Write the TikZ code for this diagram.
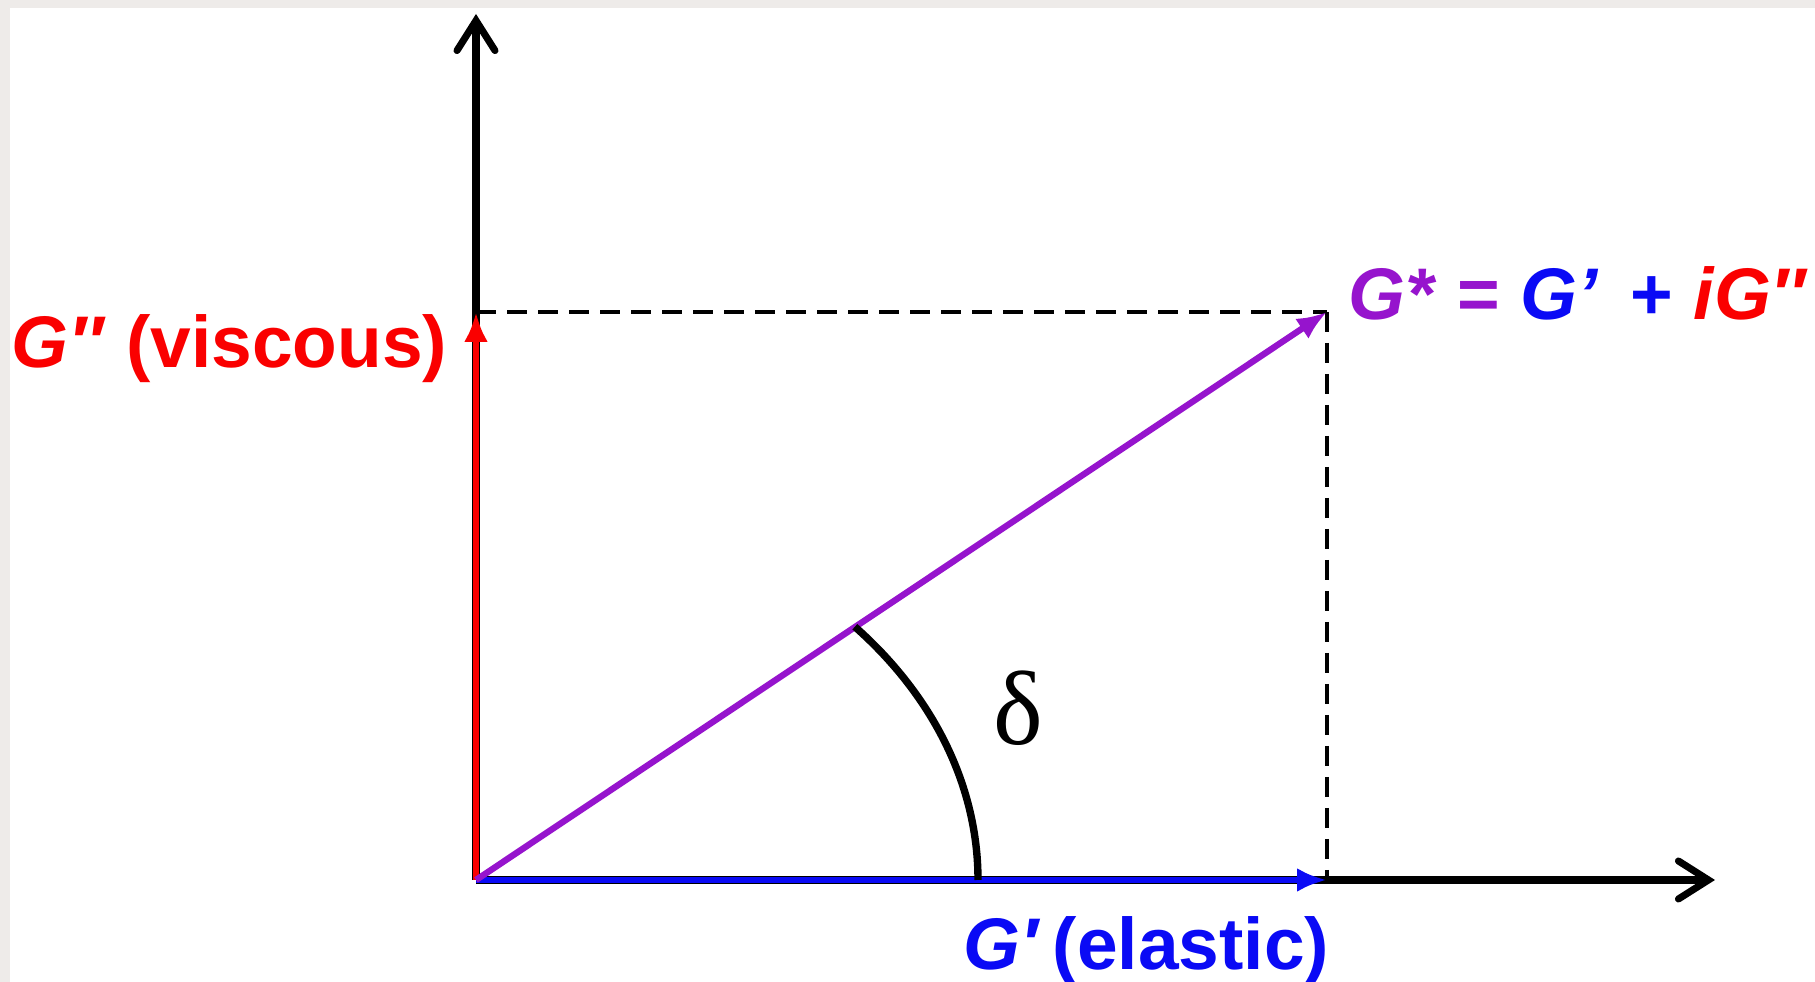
\documentclass[tikz,border=0pt]{standalone}
\usepackage{fontspec}
\setmainfont{Liberation Sans}
\newfontfamily\greekfont{Liberation Serif}
\usetikzlibrary{arrows.meta, positioning, calc}
\definecolor{modred}{RGB}{250, 0, 0}
\definecolor{modblue}{RGB}{10, 10, 245}
\definecolor{modpurple}{RGB}{150, 20, 205}
\definecolor{edgegrey}{RGB}{238, 235, 233}

\begin{document}
\begin{tikzpicture}[
  axis/.style={line width=2pt, -{Straight Barb[length=0.3cm, width=0.38cm, line cap=round]}},
  vec/.style={line width=1.8pt, -{Latex[length=0.3cm, width=0.24cm]}},
  guide/.style={line width=1.4pt, dash pattern=on 0.2cm off 0.11cm},
  lbl/.style={font=\bfseries\fontsize{20.8}{25}\selectfont, inner sep=0pt}
]
  % frame
  \fill[edgegrey] (0,0) rectangle (18.15,9.82);
  \fill[white] (0.1,0) rectangle (18.15,9.74);
  \useasboundingbox (0,0) rectangle (18.15,9.82);

  % points
  \coordinate (O) at (4.76,1.02);
  \coordinate (ytop) at (4.76,9.68);
  \coordinate (xend) at (17.15,1.02);
  \coordinate (P) at (13.27,6.70);
  \coordinate (Py) at (O |- P);
  \coordinate (Px) at (P |- O);

  % axes
  \draw[axis] (O) -- (ytop);
  \draw[axis] (O) -- (xend);

  % projections
  \draw[guide] (Py) -- (P);
  \draw[guide] (P) -- (Px);

  % components and modulus
  \draw[vec, modred] (O) -- (Py);
  \draw[vec, modblue] (O) -- (Px);
  \draw[vec, modpurple] (O) -- (P);

  % phase angle
  \draw[line width=2.1pt] ($(O)+(5.02,0)$) arc[start angle=0, end angle=41, x radius=5.02, y radius=3.86];
  \node[inner sep=0pt, font=\greekfont\fontsize{30}{34}\selectfont] (delta) at (10.18,2.74) {δ};

  % labels
  \node[lbl, modred, anchor=base east] (visc) at (4.48,6.14) {\textit{G″} (viscous)};
  \node[lbl, modblue, anchor=base west] (elas) at (9.63,0.12) {\textit{G′}\,(elastic)};
  \node[lbl, anchor=base west] (cplx) at (13.48,6.62)
    {\textcolor{modpurple}{\textit{G*} =} \textcolor{modblue}{\textit{G’}\, +} \textcolor{modred}{\textit{iG″}}};
\end{tikzpicture}
\end{document}
